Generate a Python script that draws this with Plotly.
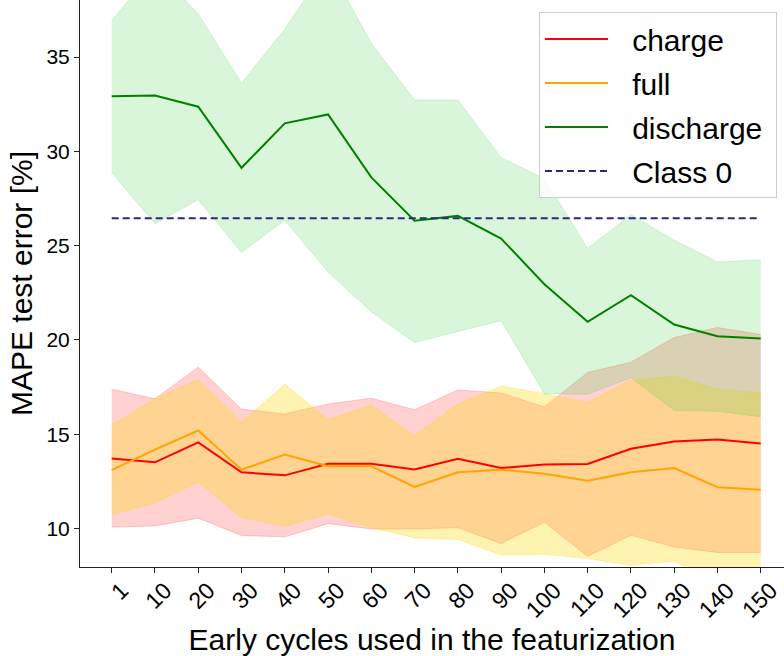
import plotly.graph_objects as go

cycles = ["1", "10", "20", "30", "40", "50", "60", "70", "80", "90", "100", "110", "120", "130", "140", "150"]

charge_mean = [13.72, 13.51, 14.57, 12.98, 12.82, 13.44, 13.44, 13.13, 13.70, 13.21, 13.39, 13.42, 14.23, 14.62, 14.72, 14.51]
charge_upper = [17.39, 16.88, 18.56, 16.33, 16.08, 16.61, 16.91, 16.30, 17.35, 17.19, 16.45, 18.28, 18.82, 20.13, 20.66, 20.29]
charge_lower = [10.07, 10.14, 10.55, 9.63, 9.56, 10.26, 9.98, 9.98, 10.04, 9.21, 10.33, 8.53, 9.64, 9.02, 8.73, 8.73]

full_mean = [13.10, 14.18, 15.20, 13.12, 13.92, 13.30, 13.30, 12.21, 12.98, 13.12, 12.91, 12.54, 12.98, 13.21, 12.19, 12.06]
full_upper = [15.50, 16.88, 17.88, 15.64, 17.65, 15.77, 16.54, 14.92, 16.61, 17.55, 17.15, 16.68, 17.87, 18.08, 17.39, 17.19]
full_lower = [10.74, 11.36, 12.45, 10.60, 10.12, 10.79, 10.04, 9.51, 9.42, 8.60, 8.63, 8.41, 8.05, 8.28, 7.00, 7.00]

discharge_mean = [32.93, 32.97, 32.37, 29.13, 31.49, 31.96, 28.62, 26.32, 26.58, 25.38, 22.96, 20.96, 22.38, 20.82, 20.20, 20.08]
discharge_upper = [36.93, 39.70, 37.29, 33.62, 36.49, 39.90, 35.73, 32.73, 32.73, 29.67, 28.55, 24.85, 26.65, 25.29, 24.14, 24.25]
discharge_lower = [28.87, 26.17, 27.44, 24.64, 26.35, 23.60, 21.50, 19.86, 20.45, 21.02, 17.15, 17.12, 18.00, 16.27, 16.22, 15.93]

class0_value = 26.45

FONT = "Liberation Sans, Arial, sans-serif"
idx = list(range(len(cycles)))
PAD = "\u00a0\u00a0\u200a"
TAIL = "\u00a0"

series = [
    ("charge", charge_mean, charge_lower, charge_upper, "red", "rgba(255,0,0,0.18)"),
    ("full", full_mean, full_lower, full_upper, "orange", "rgba(255,215,0,0.30)"),
    ("discharge", discharge_mean, discharge_lower, discharge_upper, "green", "rgba(50,205,50,0.18)"),
]

fig = go.Figure()

for name, mean, lo, hi, col, fcol in series:
    fig.add_trace(go.Scatter(x=idx, y=lo, mode="lines", line=dict(color=fcol, width=1),
                             showlegend=False, hoverinfo="skip"))
    fig.add_trace(go.Scatter(x=idx, y=hi, mode="lines", line=dict(color=fcol, width=1),
                             fill="tonexty", fillcolor=fcol, showlegend=False, hoverinfo="skip"))

for i, (name, mean, lo, hi, col, fcol) in enumerate(series):
    fig.add_trace(go.Scatter(x=idx, y=mean, mode="lines", name=PAD + name + TAIL,
                             line=dict(color=col, width=2), legendgroup=name, legendrank=i))

fig.add_trace(go.Scatter(x=idx, y=[class0_value] * len(idx), mode="lines", name=PAD + "Class 0" + TAIL,
                         line=dict(color="#2a2a7a", width=2, dash="7px,4px"), legendgroup="c0", legendrank=3))

fig.update_layout(
    width=784, height=656,
    margin=dict(l=80, r=0, t=0, b=89),
    plot_bgcolor="white", paper_bgcolor="white",
    font=dict(family=FONT, color="black"),
    showlegend=True,
    legend=dict(
        x=(777 - 80) / 704, y=1 - 12 / 567, xanchor="right", yanchor="top",
        bgcolor="rgba(255,255,255,0.8)", bordercolor="#cccccc", borderwidth=1,
        font=dict(family=FONT, size=30, color="black"),
        tracegroupgap=2, itemwidth=63,
    ),
    xaxis=dict(
        range=[-0.733, 15.538], automargin=False,
        tickmode="array", tickvals=idx, ticktext=cycles,
        tickangle=-45, tickfont=dict(size=23, family=FONT), ticklabelshift=10, ticklabelstandoff=-5,
        showline=True, linecolor="#222", linewidth=1, mirror=False,
        ticks="outside", ticklen=5, tickcolor="#222",
        showgrid=False, zeroline=False,
        title=dict(text="Early cycles used in the featurization", font=dict(size=30, family=FONT), standoff=3),
    ),
    yaxis=dict(
        range=[7.96, 38.03], automargin=False,
        tickmode="array", tickvals=[10, 15, 20, 25, 30, 35],
        tickfont=dict(size=21, family=FONT),
        showline=True, linecolor="#222", linewidth=1, mirror=False,
        ticks="outside", ticklen=5, tickcolor="#222",
        showgrid=False, zeroline=False,
        title=dict(text="MAPE test error [%]", font=dict(size=30, family=FONT), standoff=4),
    ),
)

fig.write_html("out.html", config={"displayModeBar": False},
               post_script="document.body.style.margin='0';document.body.style.overflow='hidden';")
